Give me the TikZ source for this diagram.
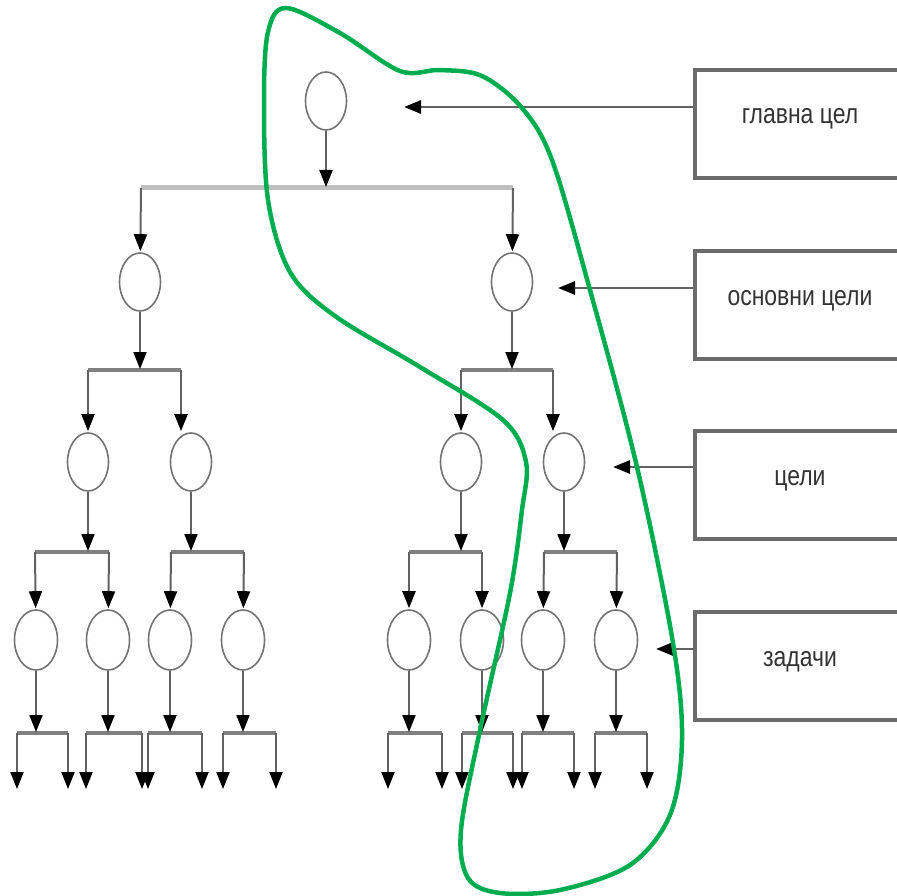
\documentclass[tikz,border=0pt]{standalone}
\usepackage{fontspec}
\setmainfont{Liberation Sans}
\usetikzlibrary{arrows.meta,shapes.geometric}
\definecolor{loopgreen}{RGB}{0,172,80}

\begin{document}
\begin{tikzpicture}[x=1pt,y=-1pt,
    goal node/.style={ellipse,draw=black!55,line width=1.6pt,minimum width=41pt,minimum height=58pt,inner sep=0pt},
    task node/.style={goal node,minimum width=43pt,minimum height=60pt},
    level box/.style={rectangle,draw=black!58,line width=3.5pt,minimum width=210pt,minimum height=108pt,
        text height=12pt,text depth=12pt,text=black!80,font=\fontsize{28}{30}\selectfont},
    bar/.style={line width=4pt,draw=black!50},
    link/.style={-{Triangle[length=17pt,width=13pt,color=black]},shorten >=1pt,line width=2pt,draw=black!62}]
    \useasboundingbox (0,0) rectangle (897,896);

    % goals tree
    \node[goal node] (g) at (326,101) {};
    \node[goal node] (o1) at (140,282) {};
    \node[goal node] (o2) at (512,282) {};
    \node[goal node] (c1) at (88,462) {};
    \node[goal node] (c2) at (191,462) {};
    \node[goal node] (c3) at (461,462) {};
    \node[goal node] (c4) at (564,462) {};
    \node[task node] (z1) at (36,640) {};
    \node[task node] (z2) at (108,640) {};
    \node[task node] (z3) at (170,640) {};
    \node[task node] (z4) at (243,640) {};
    \node[task node] (z5) at (409,640) {};
    \node[task node] (z6) at (482,640) {};
    \node[task node] (z7) at (543,640) {};
    \node[task node] (z8) at (616,640) {};

    % bars
    \coordinate (b0) at (326,188); \coordinate (b0l) at (141,188); \coordinate (b0r) at (513,188);
    \coordinate (b1) at (140,370); \coordinate (b1l) at (88,370);  \coordinate (b1r) at (181,370);
    \coordinate (b2) at (512,370); \coordinate (b2l) at (461,370); \coordinate (b2r) at (553,370);
    \coordinate (d1) at (88,552);  \coordinate (d1l) at (35,552);  \coordinate (d1r) at (109,552);
    \coordinate (d2) at (191,552); \coordinate (d2l) at (171,552); \coordinate (d2r) at (244,552);
    \coordinate (d3) at (461,552); \coordinate (d3l) at (409,552); \coordinate (d3r) at (482,552);
    \coordinate (d4) at (564,552); \coordinate (d4l) at (544,552); \coordinate (d4r) at (617,552);

    \draw[bar,draw=black!25,line width=5pt] (b0l) -- (b0r);
    \draw[bar] (b1l) -- (b1r);
    \draw[bar] (b2l) -- (b2r);
    \draw[bar] (d1l) -- (d1r);
    \draw[bar] (d2l) -- (d2r);
    \draw[bar] (d3l) -- (d3r);
    \draw[bar] (d4l) -- (d4r);

    \draw[link] (g) -- (b0);
    \draw[link] (b0l) -- (o1);
    \draw[link] (b0r) -- (o2);
    \draw[link] (o1) -- (b1);
    \draw[link] (o2) -- (b2);
    \draw[link] (b1l) -- (c1);
    \draw[link] (b1r) -- (b1r |- c2.north);
    \draw[link] (b2l) -- (c3);
    \draw[link] (b2r) -- (b2r |- c4.north);
    \draw[link] (c1) -- (d1);
    \draw[link] (c2) -- (d2);
    \draw[link] (c3) -- (d3);
    \draw[link] (c4) -- (d4);
    \draw[link] (d1l) -- (z1);
    \draw[link] (d1r) -- (z2);
    \draw[link] (d2l) -- (z3);
    \draw[link] (d2r) -- (z4);
    \draw[link] (d3l) -- (z5);
    \draw[link] (d3r) -- (z6);
    \draw[link] (d4l) -- (z7);
    \draw[link] (d4r) -- (z8);

    % last level
    \foreach \n/\x/\l/\r in {1/36/17/68,2/108/86/142,3/170/148/202,4/243/223/276,
                             5/409/388/442,6/482/462/513,7/543/522/574,8/616/595/647}{
        \coordinate (e\n) at (\x,733);
        \coordinate (e\n l) at (\l,733);
        \coordinate (e\n r) at (\r,733);
        \coordinate (f\n l) at (\l,790);
        \coordinate (f\n r) at (\r,790);
        \draw[bar] (e\n l) -- (e\n r);
        \draw[link] (z\n) -- (e\n);
        \draw[link] (e\n l) -- (f\n l);
        \draw[link] (e\n r) -- (f\n r);
    }

    % levels
    \node[level box] (tg) at (800,124) {\scalebox{0.82}[1]{главна цел}};
    \node[level box] (to) at (800,305) {\scalebox{0.82}[1]{основни цели}};
    \node[level box] (tc) at (800,485) {\scalebox{0.82}[1]{цели}};
    \node[level box] (tz) at (800,666) {\scalebox{0.82}[1]{задачи}};

    \coordinate (p1) at (403,107);
    \coordinate (p2) at (557,288);
    \coordinate (p3) at (612,467);
    \coordinate (p4) at (655,649);
    \draw[link,line width=2.8pt] ([yshift=17pt]tg.west) -- (p1);
    \draw[link,line width=2.8pt] ([yshift=17pt]to.west) -- (p2);
    \draw[link,line width=2.8pt] ([yshift=18pt]tc.west) -- (p3);
    \draw[link,line width=2.8pt] ([yshift=17pt]tz.west) -- (p4);

    % selected branch
    \draw[loopgreen,line width=4.5pt] plot[smooth cycle,tension=0.55] coordinates {
        (286,8) (340,33) (400,71) (440,70) (482,76) (522,108) (552,160) (590,290)
        (637,467) (673,643) (682,740) (670,815) (630,865) (560,890) (500,893) (468,878)
        (461,830) (480,730) (510,593) (522,510) (526,462) (503,420) (420,367) (335,316)
        (290,272) (268,200) (264,100) (268,32)};
\end{tikzpicture}
\end{document}
